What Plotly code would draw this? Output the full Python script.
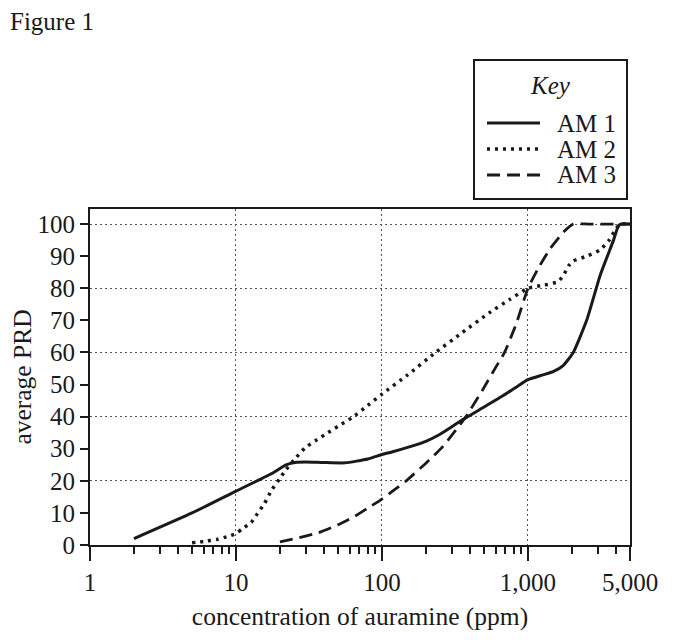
import plotly.graph_objects as go

# AM 1 (solid)
am1_x = [2, 5, 10, 18, 22, 26, 30, 40, 56, 80, 100, 117, 160, 200, 250, 356, 500, 673, 850, 1000, 1268, 1487, 1750, 2043, 2524, 3121, 3856, 4171, 4400, 5000]
am1_y = [2, 10, 16.8, 22.5, 25, 25.8, 25.9, 25.7, 25.6, 26.8, 28.2, 29, 30.8, 32.3, 34.5, 39, 43, 46.5, 49.5, 51.5, 53, 54, 56, 60, 70, 84, 95, 99.5, 100, 100]

# AM 2 (dotted)
am2_x = [5, 6, 7.5, 9, 10, 11, 12.7, 14, 15.7, 17.5, 20, 22, 25, 29.6, 35, 40.7, 50, 62, 80, 100, 150, 233, 350, 545, 750, 1000, 1300, 1600, 1750, 1900, 2043, 2524, 3121, 3600, 4000, 4300, 5000]
am2_y = [0.7, 1.1, 1.8, 2.8, 3.6, 5, 7, 9.7, 13, 17, 20.8, 23.5, 26.5, 30.2, 32.5, 34.4, 37, 39.6, 43.5, 47, 53, 60, 66, 72.4, 76.5, 80, 81, 82, 84, 87, 88.5, 90, 92, 95, 98.5, 100, 100]

# AM 3 (dashed)
am3_x = [20, 27, 36.6, 50, 65.5, 80, 100, 120, 145, 200, 259, 376, 490, 604, 691, 832, 1000, 1203, 1412, 1750, 2043, 2600, 5000]
am3_y = [1, 2.3, 3.8, 6.3, 9, 11.5, 14.3, 17, 19.8, 25.5, 30.5, 40, 48.4, 55.5, 60, 69, 80, 87, 92.2, 97.5, 100, 100, 100]

series_names = ["AM 1", "AM 2", "AM 3"]
series_x = [am1_x, am2_x, am3_x]
series_y = [am1_y, am2_y, am3_y]

x_tickvals = [1, 10, 100, 1000, 5000]
x_ticktext = ["1", "10", "100", "1,000", "5,000"]
x_minor = [2, 3, 4, 5, 6, 7, 8, 9, 20, 30, 40, 50, 60, 70, 80, 90,
           200, 300, 400, 500, 600, 700, 800, 900, 2000, 3000, 4000]
y_tickvals = [0, 10, 20, 30, 40, 50, 60, 70, 80, 90, 100]
y_gridvals = [20, 40, 60, 80, 100]

FONT = "Liberation Serif"
FS = 25
INK = "#1a1a1a"
line_styles = [
    dict(color=INK, width=3),
    dict(color=INK, width=3.5, dash="3px,5px"),
    dict(color=INK, width=2.8, dash="13px,7px"),
]

fig = go.Figure()
for name, xs, ys, st in zip(series_names, series_x, series_y, line_styles):
    fig.add_trace(go.Scatter(x=xs, y=ys, mode="lines", name=name, showlegend=False,
                             line=dict(shape="spline", smoothing=0.5, **st)))
# carrier for the overlaid grid axis
fig.add_trace(go.Scatter(x=[None], y=[None], yaxis="y2", mode="lines",
                         showlegend=False, hoverinfo="skip"))

# ---- manual key (paper coords relative to plot area) ----
def px2x(px):
    return (px - 90) / 540

def py2y(py):
    return (545 - py) / 336

shapes = [dict(type="rect", xref="paper", yref="paper",
               x0=px2x(474), x1=px2x(627), y0=py2y(199), y1=py2y(60),
               line=dict(color=INK, width=2), fillcolor="white", layer="above")]
annotations = [
    dict(text="<i>Key</i>", xref="paper", yref="paper", x=px2x(550), y=py2y(86),
         xanchor="center", yanchor="middle", showarrow=False, font=dict(size=FS)),
    dict(text="Figure 1", xref="paper", yref="paper", x=px2x(8), y=py2y(21),
         xanchor="left", yanchor="middle", showarrow=False, font=dict(size=FS)),
]
row_y = [123, 149, 175]
for name, st, ry in zip(series_names, line_styles, row_y):
    shapes.append(dict(type="line", xref="paper", yref="paper",
                       x0=px2x(487), x1=px2x(540), y0=py2y(ry), y1=py2y(ry),
                       line=dict(color=st["color"], width=st["width"], dash=st.get("dash", "solid")),
                       layer="above"))
    annotations.append(dict(text=name, xref="paper", yref="paper", x=px2x(555), y=py2y(ry),
                            xanchor="left", yanchor="middle", showarrow=False, font=dict(size=FS)))

fig.update_layout(
    width=675, height=640,
    margin=dict(l=82, r=53, t=201, b=103),
    paper_bgcolor="white", plot_bgcolor="white",
    font=dict(family=FONT, size=FS, color=INK),
    showlegend=False,
    xaxis=dict(
        type="log", range=[0, 3.69897], automargin=False,
        tickmode="array", tickvals=x_tickvals, ticktext=x_ticktext,
        ticks="outside", ticklen=14, tickwidth=1.5, tickcolor=INK,
        showline=True, linecolor=INK, linewidth=2, mirror=True,
        showgrid=True, gridcolor="#555555", gridwidth=1.2, griddash="2px,3px",
        zeroline=False,
        minor=dict(tickmode="array", tickvals=x_minor, ticks="outside", ticklen=7,
                   tickwidth=1.5, tickcolor=INK, showgrid=False),
        title=dict(text="concentration of auramine (ppm)", standoff=12,
                   font=dict(family=FONT, size=25.5, color=INK)),
    ),
    yaxis=dict(
        range=[0, 104.7], tickmode="array", tickvals=y_tickvals, automargin=False,
        ticks="outside", ticklen=8, tickwidth=1.5, tickcolor=INK,
        showline=True, linecolor=INK, linewidth=2, mirror=True,
        showgrid=False, zeroline=False,
        title=dict(text="average PRD", standoff=8,
                   font=dict(family=FONT, size=25.5, color=INK)),
    ),
    yaxis2=dict(
        range=[0, 104.7], overlaying="y", side="left", automargin=False,
        tickmode="array", tickvals=y_gridvals,
        showticklabels=False, ticks="", showline=False, zeroline=False,
        showgrid=True, gridcolor="#555555", gridwidth=1.2, griddash="2px,3px",
    ),
    shapes=shapes,
    annotations=annotations,
)

fig.write_html("out.html")
